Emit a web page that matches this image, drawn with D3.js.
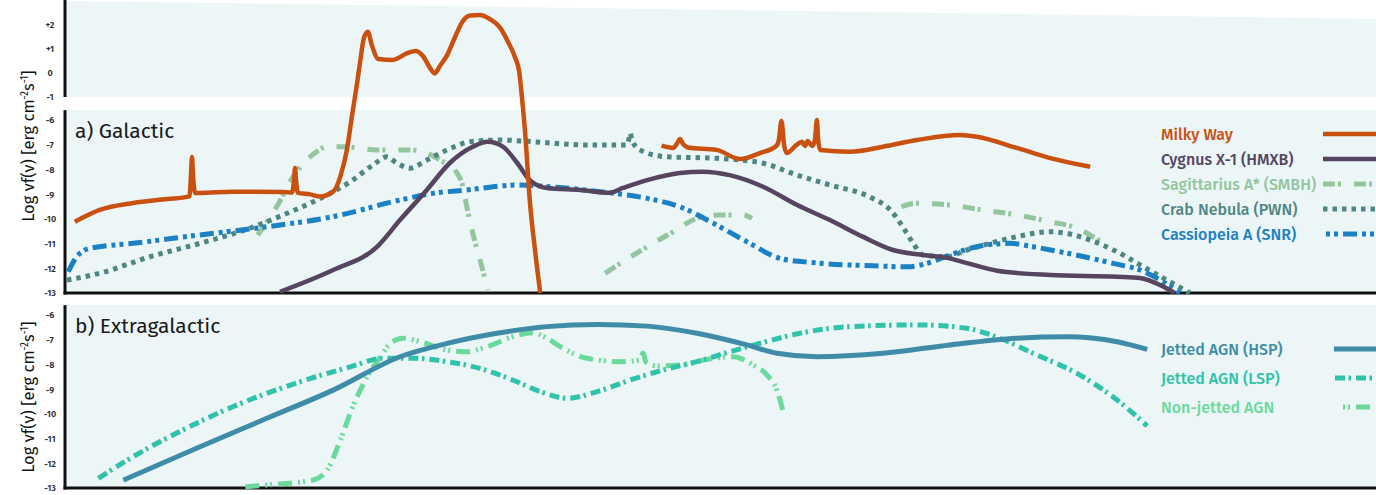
<!DOCTYPE html>
<html>
<head>
<meta charset="utf-8">
<script src="https://cdn.jsdelivr.net/npm/d3@7/dist/d3.min.js"></script>
<style>
    body { margin: 0; background: #fff; }
    svg { display: block; font-family: "Fira Sans", "Noto Sans", sans-serif; }
</style>
</head>
<body>
<div id="chart"></div>
<script>
// x values are log10(frequency / Hz), y values are log10(flux) as on the axes

const ticksTop = [2, 1, 0, -1];
const ticksPanel = [-6, -7, -8, -9, -10, -11, -12, -13];

const milkyWayLow = [
    [8.15, -10.12], [8.53, -9.64], [9.04, -9.36], [9.56, -9.20], [9.88, -9.10],
    [9.90, -9.08], [9.922, -8.23], [9.937, -7.50], [9.953, -8.23], [9.983, -8.95],
    [10.06, -8.95], [10.56, -8.90], [11.33, -8.91],
    [11.463, -8.93], [11.494, -8.43], [11.509, -7.94], [11.524, -8.43], [11.555, -8.95],
    [11.74, -9.01], [11.89, -9.10], [12.09, -8.90], [12.20, -8.29], [12.30, -7.21], [12.38, -5.80],
    [12.44, -0.73], [12.50, 0.39], [12.56, 1.43], [12.62, 1.69], [12.68, 1.14], [12.78, 0.56],
    [13.00, 0.52], [13.23, 0.81], [13.35, 0.89], [13.46, 0.68], [13.57, 0.18], [13.64, -0.04],
    [13.72, 0.27], [13.83, 0.72], [13.95, 1.47], [14.06, 2.10], [14.18, 2.37], [14.33, 2.39],
    [14.48, 2.22], [14.64, 1.85], [14.76, 1.26], [14.87, 0.60], [14.93, 0.02], [14.96, -0.73],
    [15.02, -6.53], [15.09, -9.24], [15.17, -11.26], [15.25, -13.0]
];
const milkyWayHigh = [
    [17.10, -7.04], [17.28, -7.13], [17.35, -6.89], [17.38, -6.77], [17.43, -6.97], [17.50, -7.11],
    [17.94, -7.21], [18.30, -7.58], [18.60, -7.34], [18.85, -7.05], [18.89, -6.81], [18.93, -6.04],
    [18.97, -7.01], [19.01, -7.34], [19.16, -7.01], [19.24, -6.88], [19.29, -7.05], [19.33, -6.85],
    [19.40, -7.05], [19.44, -6.81], [19.47, -6.00], [19.49, -6.81], [19.52, -7.21], [19.98, -7.28],
    [20.48, -7.08], [21.00, -6.81], [21.65, -6.61], [21.91, -6.68], [22.52, -7.13], [23.03, -7.54],
    [23.64, -7.89]
];
const cygnusX1 = [
    [11.28, -12.95], [12.09, -12.07], [12.76, -11.13], [13.11, -10.05], [13.52, -8.83], [13.87, -7.74],
    [14.22, -7.08], [14.45, -6.88], [14.68, -7.08], [14.90, -7.74], [15.09, -8.43], [15.35, -8.75],
    [15.86, -8.83], [16.31, -8.94], [16.51, -8.75], [16.88, -8.43], [17.38, -8.14], [17.73, -8.09],
    [18.14, -8.23], [18.65, -8.70], [19.17, -9.44], [19.67, -10.05], [20.17, -10.72], [20.63, -11.26],
    [21.09, -11.46], [21.46, -11.58], [21.76, -11.79], [22.22, -12.10], [23.03, -12.27], [24.05, -12.34],
    [24.40, -12.39], [24.71, -12.68], [24.93, -13.0]
];
const sgrARadio = [
    [10.94, -10.65], [11.23, -9.51], [11.48, -8.29], [11.78, -7.40], [12.00, -7.08], [12.24, -7.08],
    [12.76, -7.21], [13.26, -7.21], [13.46, -7.28], [13.72, -7.62], [13.98, -8.14], [14.07, -8.70],
    [14.13, -9.51], [14.22, -10.57], [14.36, -11.94], [14.45, -12.88]
];
const sgrAXray = [
    [16.24, -12.20], [16.47, -11.80], [16.88, -11.13], [17.28, -10.52], [17.64, -9.98], [17.99, -9.84],
    [18.34, -9.84], [18.48, -9.98]
];
const sgrAGamma = [
    [20.76, -9.51], [20.99, -9.37], [21.50, -9.44], [22.00, -9.64], [22.52, -9.84], [23.03, -10.12],
    [23.44, -10.38], [23.68, -10.72], [23.84, -10.98]
];
const crabNebula = [
    [8.03, -12.48], [8.53, -12.20], [9.30, -11.53], [10.06, -10.99], [10.82, -10.38], [11.33, -9.84],
    [11.84, -9.24], [12.35, -8.50], [12.70, -7.82], [12.91, -7.49], [13.06, -7.74], [13.26, -7.95],
    [13.52, -7.62], [13.83, -7.21], [14.18, -6.88], [14.64, -6.81], [15.14, -6.88], [15.96, -7.01],
    [16.57, -7.01], [16.60, -6.81], [16.62, -6.53], [16.65, -6.81], [16.77, -7.21], [17.18, -7.49],
    [17.95, -7.55], [18.65, -7.75], [19.17, -8.23], [19.67, -8.63], [20.28, -9.12], [20.59, -9.64],
    [20.78, -10.32], [20.94, -10.99], [21.09, -11.46], [21.46, -11.53], [21.76, -11.26], [22.11, -10.99],
    [22.52, -10.72], [23.03, -10.52], [23.29, -10.59], [23.64, -10.86], [24.05, -11.33], [24.45, -11.94],
    [24.81, -12.48], [25.16, -13.0]
];
const cassiopeiaA = [
    [8.05, -12.14], [8.18, -11.53], [8.38, -11.19], [9.04, -10.99], [10.06, -10.65], [11.08, -10.32],
    [12.09, -9.91], [13.11, -9.24], [13.61, -8.97], [14.13, -8.83], [14.90, -8.63], [15.40, -8.70],
    [16.16, -8.90], [16.88, -9.17], [17.38, -9.51], [17.89, -10.18], [18.40, -10.92], [18.91, -11.60],
    [19.41, -11.77], [20.33, -11.90], [20.85, -11.94], [21.15, -11.80], [21.50, -11.46], [21.91, -11.13],
    [22.42, -10.99], [22.77, -11.13], [23.29, -11.39], [23.99, -11.80], [24.40, -12.07], [24.75, -12.54],
    [25.01, -13.0]
];
const jettedHSP = [
    [8.89, -12.68], [10.06, -11.33], [11.08, -10.18], [12.09, -9.04], [13.11, -7.69], [13.83, -7.15],
    [14.59, -6.74], [15.35, -6.47], [16.12, -6.38], [16.88, -6.45], [17.64, -6.74], [18.40, -7.21],
    [18.86, -7.55], [19.47, -7.69], [20.48, -7.55], [21.50, -7.21], [22.52, -6.94], [23.29, -6.88],
    [24.05, -7.08], [24.51, -7.39]
];
const jettedLSP = [
    [8.51, -12.61], [9.04, -11.73], [9.80, -10.65], [10.56, -9.71], [11.59, -8.70], [12.35, -8.10],
    [12.85, -7.75], [13.31, -7.75], [13.83, -7.89], [14.33, -8.16], [14.83, -8.63], [15.25, -9.10],
    [15.66, -9.37], [16.12, -9.10], [16.62, -8.63], [17.12, -8.23], [17.64, -7.89], [18.14, -7.49],
    [18.65, -7.11], [19.21, -6.74], [19.98, -6.47], [21.00, -6.40], [21.76, -6.54], [22.26, -6.94],
    [22.77, -7.55], [23.53, -8.50], [24.05, -9.44], [24.51, -10.49]
];
const nonJettedAGN = [
    [10.75, -12.95], [11.08, -12.88], [11.78, -12.68], [12.00, -12.27], [12.20, -11.06], [12.39, -9.71],
    [12.61, -8.50], [12.85, -7.55], [12.96, -7.15], [13.16, -6.94], [13.42, -7.08], [13.83, -7.42],
    [14.13, -7.49], [14.44, -7.28], [14.83, -6.88], [15.14, -6.72], [15.35, -6.94], [15.60, -7.35],
    [15.96, -7.75], [16.47, -7.89], [16.77, -7.82], [16.82, -7.54], [16.86, -7.90], [17.03, -8.06],
    [17.38, -8.02], [17.89, -7.75], [18.19, -7.69], [18.50, -8.02], [18.71, -8.43], [18.86, -9.04],
    [18.95, -9.85]
];

const galacticNames = ["Milky Way", "Cygnus X-1 (HMXB)", "Sagittarius A* (SMBH)", "Crab Nebula (PWN)", "Cassiopeia A (SNR)"];
const extragalacticNames = ["Jetted AGN (HSP)", "Jetted AGN (LSP)", "Non-jetted AGN"];

// style per series (kept apart from the data)
const styles = {
    "Milky Way": { color: "#c9500f", width: 4.5, dash: null },
    "Cygnus X-1 (HMXB)": { color: "#56455f", width: 4.5, dash: null },
    "Sagittarius A* (SMBH)": { color: "#93c59e", width: 5, dash: "12,3,3,13" },
    "Crab Nebula (PWN)": { color: "#4f8684", width: 5, dash: "4.5,5" },
    "Cassiopeia A (SNR)": { color: "#1b80c4", width: 5, dash: "14,5,4,4,4,5" },
    "Jetted AGN (HSP)": { color: "#3f8ca8", width: 5, dash: null },
    "Jetted AGN (LSP)": { color: "#2fc3a9", width: 5, dash: "10,3.5,2.5,5" },
    "Non-jetted AGN": { color: "#6bd99c", width: 5, dash: "14,6,2,3,2,6" }
};

const galacticSeries = [
    { name: "Sagittarius A* (SMBH)", parts: [sgrARadio, sgrAXray, sgrAGamma] },
    { name: "Crab Nebula (PWN)", parts: [crabNebula] },
    { name: "Cassiopeia A (SNR)", parts: [cassiopeiaA] },
    { name: "Cygnus X-1 (HMXB)", parts: [cygnusX1] },
    { name: "Milky Way", parts: [milkyWayLow, milkyWayHigh] }
];
const extragalacticSeries = [
    { name: "Non-jetted AGN", parts: [nonJettedAGN] },
    { name: "Jetted AGN (LSP)", parts: [jettedLSP] },
    { name: "Jetted AGN (HSP)", parts: [jettedHSP] }
];

const width = 1376;
const height = 495;
const left = 65;
const bg = "#ecf6f7";

const x = d3.scaleLinear().domain([8, 28]).range([left, width]);
const yTop = d3.scaleLinear().domain([-1, 2]).range([96.5, 24.3]);
const yMid = d3.scaleLinear().domain([-13, -6]).range([293, 120]);
const yBot = d3.scaleLinear().domain([-13, -6]).range([488, 315]);
// broken axis: the galactic lines run on through the gap into the top panel
const yGal = d3.scaleLinear()
    .domain([-13, -5.6, -1, 3])
    .range([yMid(-13), yMid(-5.6), yTop(-1), yTop(3)]);

const svg = d3.select("#chart").append("svg")
    .attr("width", width)
    .attr("height", height);

// panel backgrounds
svg.append("path")
    .attr("d", `M${left},1 L${width},19 L${width},${yTop(-1) + 0.5} L${left},${yTop(-1) + 0.5} Z`)
    .attr("fill", bg);
svg.append("rect")
    .attr("x", left).attr("y", yMid(-5.6))
    .attr("width", width - left).attr("height", yMid(-13) - yMid(-5.6))
    .attr("fill", bg);
svg.append("rect")
    .attr("x", left).attr("y", yBot(-5.6))
    .attr("width", width - left).attr("height", yBot(-13) - yBot(-5.6))
    .attr("fill", bg);

/**
 * Tick labels of one panel, no tick marks.
 */
function drawTicks(scale, values, fmt) {
    const g = svg.append("g").attr("transform", `translate(${left},0)`)
        .call(d3.axisLeft(scale).tickValues(values).tickSize(0).tickPadding(15).tickFormat(fmt));
    g.select(".domain").remove();
    g.selectAll("text")
        .attr("text-anchor", "middle")
        .attr("fill", "#2a2a2a")
        .style("font-size", "9px")
        .style("font-weight", 600)
        .style("font-family", "'Fira Sans', 'Noto Sans', sans-serif");
}
drawTicks(yTop, ticksTop, d => d > 0 ? "+" + d : String(d));
drawTicks(yMid, ticksPanel, d => String(d));
drawTicks(yBot, ticksPanel, d => String(d));

// axis lines
const axisLines = [
    [left, 0, left, yTop(-1) + 0.5],
    [left, yMid(-5.6), left, yMid(-13) + 1.5],
    [left - 1.5, yMid(-13), width, yMid(-13)],
    [left, yBot(-5.6), left, yBot(-13) + 1.5],
    [left - 1.5, yBot(-13), width, yBot(-13)]
];
svg.selectAll("line.axis")
    .data(axisLines)
    .join("line")
    .attr("class", "axis")
    .attr("x1", d => d[0]).attr("y1", d => d[1])
    .attr("x2", d => d[2]).attr("y2", d => d[3])
    .attr("stroke", "#111")
    .attr("stroke-width", 3);

// y axis titles
function axisTitle(cy) {
    const t = svg.append("text")
        .attr("transform", `translate(34,${cy}) rotate(-90)`)
        .attr("text-anchor", "middle")
        .attr("fill", "#111")
        .style("font-size", "16.5px");
    t.append("tspan").text("Log νf(ν) [erg cm");
    t.append("tspan").attr("dy", -6).style("font-size", "10px").text("-2");
    t.append("tspan").attr("dy", 6).text("s");
    t.append("tspan").attr("dy", -6).style("font-size", "10px").text("-1");
    t.append("tspan").attr("dy", 6).text("]");
}
axisTitle(146);
axisTitle(397);

// panel titles
svg.append("text").attr("x", 75).attr("y", 138)
    .attr("fill", "#1a1a1a").style("font-size", "21px").text("a) Galactic");
svg.append("text").attr("x", 75).attr("y", 333)
    .attr("fill", "#1a1a1a").style("font-size", "21px").text("b) Extragalactic");

/**
 * Draws every part of every series with the given y scale.
 */
function drawSeries(series, yScale) {
    const line = d3.line()
        .x(d => x(d[0]))
        .y(d => yScale(d[1]))
        .curve(d3.curveMonotoneX);
    const rows = series.flatMap(s => s.parts.map(p => ({ name: s.name, points: p })));
    svg.append("g")
        .selectAll("path")
        .data(rows)
        .join("path")
        .attr("d", d => line(d.points))
        .attr("fill", "none")
        .attr("stroke", d => styles[d.name].color)
        .attr("stroke-width", d => styles[d.name].width)
        .attr("stroke-dasharray", d => styles[d.name].dash)
        .attr("stroke-linejoin", "round");
}
drawSeries(galacticSeries, yGal);
drawSeries(extragalacticSeries, yBot);

/**
 * Legend: coloured label and a short line sample running off the right edge.
 */
function drawLegend(names, baseline0, step, lineStart, offsets) {
    const g = svg.append("g");
    const rows = g.selectAll("g").data(names).join("g")
        .attr("transform", (d, i) => `translate(0,${baseline0 + i * step})`);
    rows.append("text")
        .attr("x", 1161)
        .attr("fill", d => styles[d].color)
        .style("font-size", "16px")
        .style("font-weight", 500)
        .text(d => d);
    rows.append("line")
        .attr("x1", (d, i) => lineStart[i]).attr("x2", width)
        .attr("y1", -6).attr("y2", -6)
        .attr("stroke", d => styles[d].color)
        .attr("stroke-width", d => styles[d].width)
        .attr("stroke-dasharray", d => styles[d].dash)
        .attr("stroke-dashoffset", (d, i) => offsets[i]);
}
drawLegend(galacticNames, 140, 25, [1323, 1323, 1323, 1323, 1326], [0, 0, 0, 0, 19]);
drawLegend(extragalacticNames, 355, 29, [1334, 1335, 1343], [0, 0, 20]);
</script>
</body>
</html>
